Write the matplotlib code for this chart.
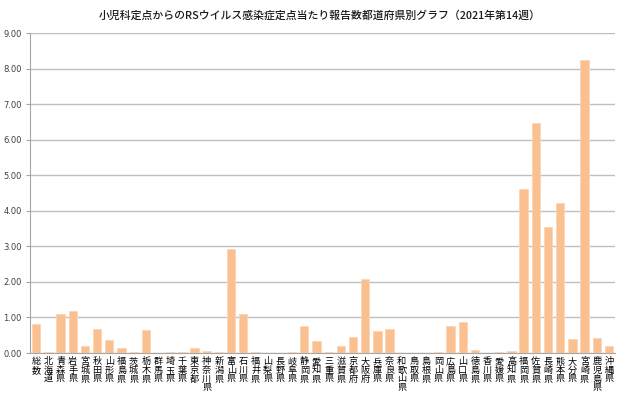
import matplotlib.pyplot as plt
import numpy as np

plt.rcParams['font.family'] = ['Noto Sans CJK JP', 'DejaVu Sans']

prefs = ['総数', '北海道', '青森県', '岩手県', '宮城県', '秋田県', '山形県', '福島県',
         '茨城県', '栃木県', '群馬県', '埼玉県', '千葉県', '東京都', '神奈川県', '新潟県',
         '富山県', '石川県', '福井県', '山梨県', '長野県', '岐阜県', '静岡県', '愛知県',
         '三重県', '滋賀県', '京都府', '大阪府', '兵庫県', '奈良県', '和歌山県', '鳥取県',
         '島根県', '岡山県', '広島県', '山口県', '徳島県', '香川県', '愛媛県', '高知県',
         '福岡県', '佐賀県', '長崎県', '熊本県', '大分県', '宮崎県', '鹿児島県', '沖縄県']
values = [0.81, 0.04, 1.10, 1.17, 0.21, 0.68, 0.38, 0.14,
          0.04, 0.66, 0.00, 0.04, 0.02, 0.14, 0.07, 0.03,
          2.93, 1.10, 0.04, 0.00, 0.00, 0.04, 0.76, 0.34,
          0.03, 0.19, 0.46, 2.07, 0.63, 0.68, 0.00, 0.00,
          0.00, 0.04, 0.75, 0.87, 0.09, 0.00, 0.04, 0.05,
          4.62, 6.48, 3.54, 4.21, 0.39, 8.24, 0.43, 0.21]
yticks = np.arange(0, 9.01, 1.0)

fig = plt.figure(figsize=(6.4, 3.98), dpi=100)
ax = fig.add_axes([0.047, 0.113, 0.914, 0.804])

x = np.arange(len(prefs))
ax.bar(x, values, 0.68, color='#FAC090', edgecolor='#FCD5B4', linewidth=0.6, zorder=3)

ax.set_xlim(-0.5, len(prefs) - 0.5)
ax.set_ylim(0, 9)
ax.set_yticks(yticks)
ax.set_yticklabels([f'{v:.2f}' for v in yticks], fontsize=6, color='#404040',
                   family='DejaVu Sans')
ax.set_xticks(x)
ax.set_xticklabels(['\n'.join(p) for p in prefs], fontsize=6.6, linespacing=0.95,
                   va='top')
ax.tick_params(axis='x', length=0, pad=3)
ax.tick_params(axis='y', length=3, color='#A6A6A6', pad=3)
ax.grid(axis='y', color='#C0C0C0', linewidth=1, zorder=0)
for s in ['top', 'right']:
    ax.spines[s].set_visible(False)
ax.spines['left'].set_color('#A6A6A6')
ax.spines['bottom'].set_color('#A6A6A6')

fig.text(0.5, 0.962, '小児科定点からのRSウイルス感染症定点当たり報告数都道府県別グラフ（2021年第14週）',
         ha='center', va='center', fontsize=7.8, weight='medium', color='#1a1a1a')

plt.savefig('out.png', dpi=100)
